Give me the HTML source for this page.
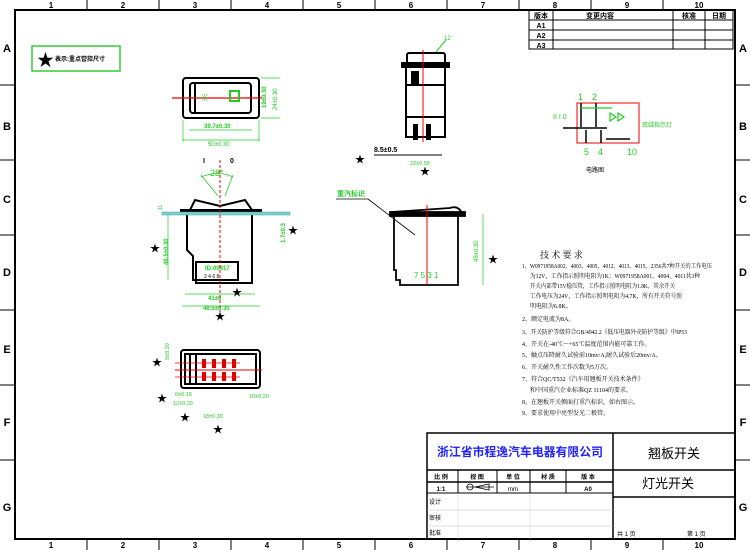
<!DOCTYPE html>
<html><head><meta charset="utf-8"><style>
html,body{margin:0;padding:0;background:#fff;}
svg{display:block;font-family:"Liberation Sans","Noto Sans CJK SC",sans-serif;}
</style></head><body>
<svg width="750" height="550" viewBox="0 0 750 550" xmlns="http://www.w3.org/2000/svg">
<rect x="0" y="0" width="750" height="550" fill="#fff"/>
<rect x="15" y="10" width="720" height="529" fill="none" stroke="#000" stroke-width="2"/>
<g stroke="#000" stroke-width="1">
<line x1="87" y1="0" x2="87" y2="10"/><line x1="159" y1="0" x2="159" y2="10"/><line x1="231" y1="0" x2="231" y2="10"/><line x1="303" y1="0" x2="303" y2="10"/><line x1="375" y1="0" x2="375" y2="10"/><line x1="447" y1="0" x2="447" y2="10"/><line x1="519" y1="0" x2="519" y2="10"/><line x1="591" y1="0" x2="591" y2="10"/><line x1="663" y1="0" x2="663" y2="10"/>
<line x1="87" y1="539" x2="87" y2="550"/><line x1="159" y1="539" x2="159" y2="550"/><line x1="231" y1="539" x2="231" y2="550"/><line x1="303" y1="539" x2="303" y2="550"/><line x1="375" y1="539" x2="375" y2="550"/><line x1="447" y1="539" x2="447" y2="550"/><line x1="519" y1="539" x2="519" y2="550"/><line x1="591" y1="539" x2="591" y2="550"/><line x1="663" y1="539" x2="663" y2="550"/>
<line x1="0" y1="85" x2="15" y2="85"/><line x1="0" y1="160" x2="15" y2="160"/><line x1="0" y1="235" x2="15" y2="235"/><line x1="0" y1="310" x2="15" y2="310"/><line x1="0" y1="385" x2="15" y2="385"/><line x1="0" y1="460" x2="15" y2="460"/>
<line x1="735" y1="85" x2="750" y2="85"/><line x1="735" y1="160" x2="750" y2="160"/><line x1="735" y1="235" x2="750" y2="235"/><line x1="735" y1="310" x2="750" y2="310"/><line x1="735" y1="385" x2="750" y2="385"/><line x1="735" y1="460" x2="750" y2="460"/>
</g>
<g font-size="8" font-weight="bold" text-anchor="middle">
<text x="51" y="8">1</text><text x="123" y="8">2</text><text x="195" y="8">3</text><text x="267" y="8">4</text><text x="339" y="8">5</text><text x="411" y="8">6</text><text x="483" y="8">7</text><text x="555" y="8">8</text><text x="627" y="8">9</text><text x="699" y="8">10</text>
<text x="51" y="548">1</text><text x="123" y="548">2</text><text x="195" y="548">3</text><text x="267" y="548">4</text><text x="339" y="548">5</text><text x="411" y="548">6</text><text x="483" y="548">7</text><text x="555" y="548">8</text><text x="627" y="548">9</text><text x="699" y="548">10</text>
</g>
<g font-size="11" font-weight="bold" text-anchor="middle">
<text x="7" y="52">A</text><text x="7" y="130">B</text><text x="7" y="203">C</text><text x="7" y="276">D</text><text x="7" y="353">E</text><text x="7" y="426">F</text><text x="7" y="511">G</text>
<text x="743" y="52">A</text><text x="743" y="130">B</text><text x="743" y="203">C</text><text x="743" y="276">D</text><text x="743" y="353">E</text><text x="743" y="426">F</text><text x="743" y="511">G</text>
</g>
<g stroke="#000" stroke-width="1" fill="none">
<rect x="529" y="10" width="204" height="39"/>
<line x1="529" y1="20" x2="733" y2="20"/><line x1="529" y1="30" x2="733" y2="30"/><line x1="529" y1="40" x2="733" y2="40"/>
<line x1="553" y1="10" x2="553" y2="49"/><line x1="673" y1="10" x2="673" y2="49"/><line x1="705" y1="10" x2="705" y2="49"/>
</g>
<g font-size="7" font-weight="bold" text-anchor="middle">
<text x="541" y="18">版本</text><text x="600" y="18">变更内容</text><text x="689" y="18">核准</text><text x="719" y="18">日期</text>
<text x="541" y="28">A1</text><text x="541" y="38">A2</text><text x="541" y="48">A3</text>
</g>
<rect x="32" y="46" width="88" height="25" fill="none" stroke="#3c3" stroke-width="1.5"/>
<text x="37" y="66" font-size="17">★</text>
<text x="55" y="61" font-size="6" font-weight="bold">表示:重点管控尺寸</text>
<g fill="none" stroke="#000" stroke-width="2">
<rect x="183" y="78" width="76" height="40" rx="3"/>
<rect x="190" y="83" width="61" height="30" rx="3"/>
<line x1="195" y1="83" x2="195" y2="113"/>
</g>
<line x1="172" y1="98" x2="262" y2="98" stroke="#e00" stroke-width="1.2"/>
<text x="200" y="101" font-size="9" fill="#2c2" font-weight="bold">※</text>
<rect x="230" y="91" width="9" height="10" fill="none" stroke="#2c2" stroke-width="2"/>
<g stroke="#2c2" stroke-width="0.7" fill="none">
<line x1="183" y1="120" x2="183" y2="142"/><line x1="259" y1="120" x2="259" y2="142"/>
<line x1="189" y1="130" x2="252" y2="130"/><line x1="183" y1="140" x2="259" y2="140"/>
<line x1="261" y1="78" x2="280" y2="78"/><line x1="261" y1="118" x2="280" y2="118"/>
</g>
<text x="204" y="128" font-size="6" fill="#2c2" font-weight="bold">39.7±0.30</text>
<text x="208" y="146" font-size="6" fill="#2c2">50±0.30</text>
<text x="266" y="108" font-size="6" fill="#2c2" font-weight="bold" transform="rotate(-90 266 108)">19±0.30</text>
<text x="277" y="110" font-size="6" fill="#2c2" transform="rotate(-90 277 110)">24±0.30</text>
<g stroke="#2c2" stroke-width="0.8" fill="none">
<line x1="201" y1="175" x2="218" y2="196"/><line x1="233" y1="175" x2="225" y2="196"/>
<path d="M201 177 Q218 170 233 177"/>
</g>
<text x="203" y="163" font-size="7" font-weight="bold">I</text>
<text x="230" y="163" font-size="7" font-weight="bold">0</text>
<text x="210" y="176" font-size="9" fill="#2c2">28°</text>
<g fill="none" stroke="#000" stroke-width="2">
<path d="M190 210 L195 200 L220 206 L245 200 L252 210"/>
<rect x="181" y="210" width="80" height="4" fill="#000"/>
<path d="M187 214 L187 250 L193 256 L193 280 L196 280 L196 283 L252 283 L252 214"/>
<rect x="196" y="262" width="42" height="18"/>
</g>
<rect x="162" y="212" width="128" height="3" fill="#8cc" stroke="#2aa" stroke-width="0.5"/>
<line x1="220" y1="160" x2="220" y2="312" stroke="#e00" stroke-width="1" stroke-dasharray="3,2"/>
<text x="205" y="270" font-size="6" fill="#2c2" font-weight="bold">ID:00417</text>
<text x="204" y="278" font-size="5">2  4  6  8</text>
<g stroke="#2c2" stroke-width="0.7" fill="none">
<line x1="185" y1="294" x2="255" y2="294"/><line x1="182" y1="306" x2="260" y2="306"/>
<line x1="168" y1="215" x2="168" y2="280"/>
</g>
<text x="208" y="300" font-size="6" fill="#2c2" font-weight="bold">41±0</text>
<text x="203" y="310" font-size="6" fill="#2c2" font-weight="bold">48.5±0.30</text>
<text x="168" y="265" font-size="6" fill="#2c2" font-weight="bold" transform="rotate(-90 168 265)">48.5±0.30</text>
<text x="285" y="243" font-size="6" fill="#2c2" font-weight="bold" transform="rotate(-90 285 243)">1.7±0.3</text>
<text x="162" y="210" font-size="5" fill="#2c2" transform="rotate(-90 162 210)">11</text>
<g font-size="10"><text x="150" y="252">★</text><text x="288" y="234">★</text><text x="232" y="296">★</text><text x="215" y="320">★</text>
<text x="152" y="366">★</text><text x="157" y="402">★</text><text x="180" y="421">★</text><text x="213" y="433">★</text>
<text x="355" y="163">★</text><text x="420" y="175">★</text><text x="488" y="263">★</text></g>
<g fill="none" stroke="#000" stroke-width="2">
<rect x="181" y="350" width="79" height="38" rx="3"/>
<rect x="185" y="354" width="71" height="30"/>
<line x1="190" y1="355" x2="190" y2="383"/><line x1="196" y1="355" x2="196" y2="383"/>
</g>
<g fill="#d00">
<rect x="202" y="359" width="4" height="9"/><rect x="212" y="359" width="4" height="9"/><rect x="222" y="359" width="4" height="9"/><rect x="232" y="359" width="4" height="9"/>
<rect x="202" y="372" width="4" height="9"/><rect x="212" y="372" width="4" height="9"/><rect x="222" y="372" width="4" height="9"/><rect x="232" y="372" width="4" height="9"/>
</g>
<line x1="175" y1="370" x2="262" y2="370" stroke="#e00" stroke-width="1"/>
<line x1="175" y1="363" x2="240" y2="363" stroke="#e00" stroke-width="0.8"/>
<line x1="175" y1="377" x2="240" y2="377" stroke="#e00" stroke-width="0.8"/>
<text x="175" y="396" font-size="5.5" fill="#2c2">6±0.15</text>
<text x="173" y="405" font-size="5.5" fill="#2c2">12±0.20</text>
<text x="203" y="418" font-size="5.5" fill="#2c2">18±0.30</text>
<text x="249" y="398" font-size="5.5" fill="#2c2">10±0.20</text>
<text x="169" y="360" font-size="5.5" fill="#2c2" transform="rotate(-90 169 360)">9±0.30</text>
<g fill="none" stroke="#000" stroke-width="2">
<rect x="407" y="53" width="38" height="12" rx="2"/>
<rect x="402" y="63" width="47" height="4" fill="#000"/>
<rect x="406" y="67" width="39" height="70"/>
<line x1="406" y1="85" x2="445" y2="85"/><line x1="406" y1="117" x2="445" y2="117"/>
<rect x="412" y="72" width="6" height="13" fill="#000"/>
</g>
<rect x="413" y="124" width="5" height="16" fill="#000"/><rect x="426" y="124" width="5" height="16" fill="#000"/>
<line x1="423" y1="50" x2="423" y2="142" stroke="#e00" stroke-width="1"/>
<line x1="436" y1="52" x2="446" y2="40" stroke="#2c2" stroke-width="1"/>
<text x="444" y="40" font-size="6" fill="#2c2">12</text>
<line x1="374" y1="155" x2="442" y2="155" stroke="#000" stroke-width="1"/>
<text x="374" y="152" font-size="7" font-weight="bold">8.5±0.5</text>
<text x="410" y="165" font-size="5.5" fill="#2c2">22±0.50</text>
<text x="337" y="196" font-size="7" fill="#2c2" font-weight="bold">重汽标识</text>
<line x1="336" y1="199" x2="368" y2="199" stroke="#000" stroke-width="0.8"/>
<line x1="368" y1="199" x2="415" y2="235" stroke="#000" stroke-width="0.8"/>
<g fill="none" stroke="#000" stroke-width="1.8">
<path d="M392 212 L450 208 Q458 205 462 213"/>
<rect x="390" y="212" width="75" height="4" fill="#000"/>
<path d="M394 216 L394 270 L396 270 L396 280 L400 280 L400 285 L458 285 L458 216"/>
</g>
<line x1="427" y1="205" x2="427" y2="285" stroke="#e00" stroke-width="1"/>
<text x="414" y="278" font-size="8" fill="#2c2">7 5 3 1</text>
<text x="478" y="262" font-size="6" fill="#2c2" transform="rotate(-90 478 262)">48±0.30</text>
<line x1="483" y1="214" x2="483" y2="285" stroke="#2c2" stroke-width="0.7"/>
<rect x="577" y="103" width="62" height="40" fill="none" stroke="#e00" stroke-width="1"/>
<g stroke="#000" stroke-width="1.5" fill="none">
<line x1="581" y1="103" x2="581" y2="127"/><line x1="596" y1="103" x2="596" y2="127"/>
<line x1="563" y1="128" x2="607" y2="128"/><line x1="586" y1="130" x2="586" y2="143"/><line x1="601" y1="130" x2="601" y2="143"/>
<line x1="606" y1="139" x2="630" y2="139"/>
</g>
<g stroke="#2c2" stroke-width="1.2" fill="none"><line x1="581" y1="108" x2="612" y2="108"/><path d="M610 113 l6 4 -6 4z M618 113 l6 4 -6 4z"/></g>
<g font-size="9" fill="#2c2"><text x="578" y="100">1</text><text x="592" y="100">2</text><text x="584" y="155">5</text><text x="598" y="155">4</text><text x="627" y="155">10</text><text x="553" y="119" font-size="7">II I 0</text><text x="642" y="127" font-size="6">双绿指示灯</text></g>
<text x="586" y="172" font-size="6">电路图</text>
<g font-size="6" font-family="'Liberation Serif','Noto Serif CJK SC',serif">
<text x="540" y="258" font-size="9">技 术 要 求</text>
<text x="522" y="268" textLength="190" lengthAdjust="spacingAndGlyphs">1、W0971958A002、4003、4005、4012、4013、4015、2356共7种开关的工作电压</text>
<text x="530" y="278" textLength="170" lengthAdjust="spacingAndGlyphs">为12V，工作指示照明电阻为1K；W0971958A001、4004、4011共3种</text>
<text x="530" y="288" textLength="145" lengthAdjust="spacingAndGlyphs">开关内部带15V稳压管，工作指示照明电阻为1.8K，其余开关</text>
<text x="530" y="298" textLength="152" lengthAdjust="spacingAndGlyphs">工作电压为24V，工作指示照明电阻为4.7K，所有开关符号照</text>
<text x="530" y="308">明电阻为6.8K。</text>
<text x="522" y="321">2、额定电流为8A。</text>
<text x="522" y="334" textLength="165" lengthAdjust="spacingAndGlyphs">3、开关防护等级符合GB/4942.2《低压电器外壳防护等级》中IP53</text>
<text x="522" y="346">4、开关在-40℃～+65℃温度范围内能可靠工作。</text>
<text x="522" y="357">5、触点压降耐久试验前10mv/A,耐久试验后20mv/A。</text>
<text x="522" y="369">6、开关耐久性工作次数为5万次。</text>
<text x="522" y="381">7、符合QC/T532《汽车用翘板开关技术条件》</text>
<text x="530" y="392">和中国重汽企业标准QZ 11104的要求。</text>
<text x="522" y="404">8、在翘板开关侧面打重汽标识，如右图示。</text>
<text x="522" y="415">9、要求使用中亮型发光二极管。</text>
</g>
<g stroke="#000" fill="none">
<rect x="427" y="433" width="308" height="106" stroke-width="1.5"/>
<line x1="613" y1="433" x2="613" y2="539" stroke-width="1.5"/>
<line x1="427" y1="470" x2="735" y2="470" stroke-width="1.5"/>
<line x1="613" y1="497" x2="735" y2="497" stroke-width="1.5"/>
<line x1="427" y1="482" x2="613" y2="482" stroke-width="1.5"/>
<line x1="427" y1="493" x2="613" y2="493" stroke-width="1"/>
<line x1="427" y1="510" x2="613" y2="510" stroke-width="0.5" stroke="#bbb"/>
<line x1="427" y1="526" x2="613" y2="526" stroke-width="0.5" stroke="#bbb"/>
<line x1="458" y1="470" x2="458" y2="493"/><line x1="497" y1="470" x2="497" y2="493"/><line x1="530" y1="470" x2="530" y2="493"/><line x1="566" y1="470" x2="566" y2="493"/>
<line x1="458" y1="493" x2="458" y2="539" stroke="#ccc" stroke-width="0.5"/><line x1="530" y1="493" x2="530" y2="539" stroke="#ccc" stroke-width="0.5"/>
</g>
<text x="520" y="456" font-size="12" font-weight="bold" fill="#22f" text-anchor="middle" textLength="166" lengthAdjust="spacingAndGlyphs">浙江省市程逸汽车电器有限公司</text>
<text x="674" y="458" font-size="13" text-anchor="middle">翘板开关</text>
<text x="668" y="488" font-size="13" text-anchor="middle">灯光开关</text>
<g font-size="6" font-weight="bold" text-anchor="middle">
<text x="441" y="479">比 例</text><text x="477" y="479">视 图</text><text x="513" y="479">单 位</text><text x="548" y="479">材 质</text><text x="588" y="479">版 本</text>
<text x="441" y="491">1:1</text><text x="513" y="491" font-weight="normal">mm</text><text x="588" y="491">A0</text>
</g>
<g stroke="#000" fill="none" stroke-width="0.8"><circle cx="470" cy="487" r="3"/><path d="M475 487 L489 484 L489 490 Z"/><line x1="466" y1="487" x2="494" y2="487"/></g>
<g font-size="6"><text x="429" y="504">设计</text><text x="429" y="520">审核</text><text x="429" y="535">批准</text>
<text x="617" y="536">共  1  页</text><text x="687" y="536">第  1  页</text></g>
</svg>
</body></html>
